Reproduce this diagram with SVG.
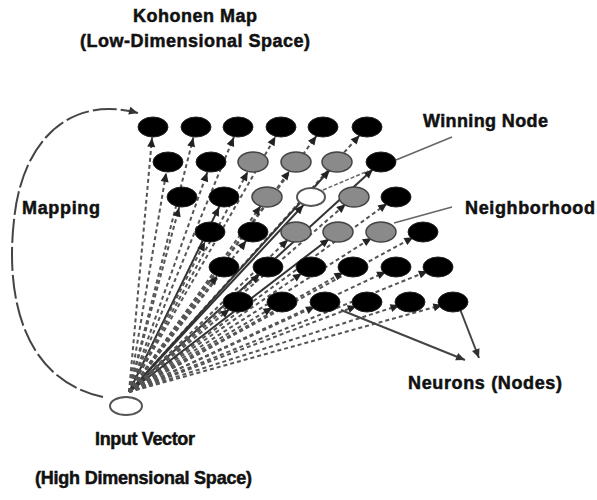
<svg xmlns="http://www.w3.org/2000/svg" width="597" height="500" viewBox="0 0 597 500">
  <style>
    text { font-family: "Liberation Sans", Arial, sans-serif; font-weight: bold; font-size: 18px; fill: #111; stroke: #111; stroke-width: 0.5; }
    .dash { stroke: #555; stroke-width: 2; stroke-dasharray: 4 3; fill: none; marker-end: url(#tip); }
    .solid { stroke: #333; stroke-width: 2; fill: none; marker-end: url(#tip); }
    .black { fill: #000; stroke: #222; stroke-width: 1; }
    .gray { fill: #8a8a8a; stroke: #444; stroke-width: 1.5; }
    .hollow { fill: #fff; stroke: #555; stroke-width: 2; }
    .lead { stroke: #666; stroke-width: 1.5; fill: none; }
    .pointer { stroke: #444; stroke-width: 2; fill: none; marker-end: url(#head); }
  </style>
  <defs>
    <!-- arrowhead set back from the line end so it sits at the node rim -->
    <marker id="tip" markerUnits="userSpaceOnUse" markerWidth="22" markerHeight="8" refX="20" refY="4" orient="auto" overflow="visible">
      <path d="M0,0 L9,4 L0,8 z" fill="#222"/>
    </marker>
    <marker id="head" markerUnits="userSpaceOnUse" markerWidth="10" markerHeight="8" refX="9" refY="4" orient="auto" overflow="visible">
      <path d="M0,0 L9,4 L0,8 z" fill="#333"/>
    </marker>
  </defs>

  <!-- connectors -->
  <g id="connectors">
    <!-- mapping arc -->
    <path d="M103,397 C25,380 5,300 14,220 C22,140 70,95 138,113" stroke="#444" stroke-width="2" fill="none" stroke-dasharray="24 4" marker-end="url(#head)"/>
    <g id="weights">
      <!-- row 0 -->
      <line class="dash" x1="129" y1="392" x2="153" y2="127"/>
      <line class="dash" x1="129" y1="392" x2="196" y2="127"/>
      <line class="dash" x1="129" y1="392" x2="238" y2="127"/>
      <line class="dash" x1="129" y1="392" x2="281" y2="127"/>
      <line class="dash" x1="129" y1="392" x2="323" y2="127"/>
      <line class="dash" x1="129" y1="392" x2="367" y2="127"/>
      <!-- row 1 -->
      <line class="dash" x1="129" y1="392" x2="168" y2="162"/>
      <line class="dash" x1="129" y1="392" x2="211" y2="162"/>
      <line class="dash" x1="129" y1="392" x2="253" y2="162"/>
      <line class="dash" x1="129" y1="392" x2="296" y2="162"/>
      <line class="solid" x1="129" y1="392" x2="337" y2="162"/>
      <line class="solid" x1="129" y1="392" x2="381" y2="162"/>
      <!-- row 2 -->
      <line class="dash" x1="129" y1="392" x2="182" y2="197"/>
      <line class="solid" x1="129" y1="392" x2="224" y2="197"/>
      <line class="dash" x1="129" y1="392" x2="267" y2="197"/>
      <line class="solid" x1="129" y1="392" x2="311" y2="197"/>
      <line class="dash" x1="129" y1="392" x2="354" y2="197"/>
      <line class="dash" x1="129" y1="392" x2="396" y2="197"/>
      <!-- row 3 -->
      <line class="dash" x1="129" y1="392" x2="210" y2="232"/>
      <line class="dash" x1="129" y1="392" x2="253" y2="232"/>
      <line class="dash" x1="129" y1="392" x2="296" y2="232"/>
      <line class="solid" x1="129" y1="392" x2="338" y2="232"/>
      <line class="dash" x1="129" y1="392" x2="381" y2="232"/>
      <line class="dash" x1="129" y1="392" x2="423" y2="232"/>
      <!-- row 4 -->
      <line class="dash" x1="129" y1="392" x2="224" y2="267"/>
      <line class="dash" x1="129" y1="392" x2="268" y2="267"/>
      <line class="dash" x1="129" y1="392" x2="311" y2="267"/>
      <line class="dash" x1="129" y1="392" x2="353" y2="267"/>
      <line class="dash" x1="129" y1="392" x2="396" y2="267"/>
      <line class="dash" x1="129" y1="392" x2="438" y2="267"/>
      <!-- row 5 -->
      <line class="dash" x1="129" y1="392" x2="238" y2="302"/>
      <line class="dash" x1="129" y1="392" x2="282" y2="302"/>
      <line class="dash" x1="129" y1="392" x2="325" y2="302"/>
      <line class="dash" x1="129" y1="392" x2="367" y2="302"/>
      <line class="dash" x1="129" y1="392" x2="410" y2="302"/>
      <line class="dash" x1="129" y1="392" x2="453" y2="302"/>
    </g>
    <!-- hollow node to winning node -->
    <line x1="323" y1="190" x2="368" y2="171" stroke="#666" stroke-width="1.5" stroke-dasharray="4 2"/>
    <!-- label leaders -->
    <line class="lead" x1="452" y1="137" x2="396" y2="160"/>
    <line class="lead" x1="452" y1="207" x2="394" y2="223"/>
    <line class="pointer" x1="341" y1="310" x2="465" y2="360"/>
    <line class="pointer" x1="460" y1="309" x2="479" y2="358"/>
  </g>

  <!-- map neurons -->
  <g id="r0">
    <ellipse class="black" cx="153" cy="127" rx="15" ry="10"/>
    <ellipse class="black" cx="196" cy="127" rx="15" ry="10"/>
    <ellipse class="black" cx="238" cy="127" rx="15" ry="10"/>
    <ellipse class="black" cx="281" cy="127" rx="15" ry="10"/>
    <ellipse class="black" cx="323" cy="127" rx="15" ry="10"/>
    <ellipse class="black" cx="367" cy="127" rx="15" ry="10"/>
  </g>
  <g id="r1">
    <ellipse class="black" cx="168" cy="162" rx="15" ry="10"/>
    <ellipse class="black" cx="211" cy="162" rx="15" ry="10"/>
    <ellipse class="gray" cx="253" cy="162" rx="15" ry="10"/>
    <ellipse class="gray" cx="296" cy="162" rx="15" ry="10"/>
    <ellipse class="gray" cx="337" cy="162" rx="15" ry="10"/>
    <ellipse id="winner" class="black" cx="381" cy="162" rx="15" ry="10"/>
  </g>
  <g id="r2">
    <ellipse class="black" cx="182" cy="197" rx="15" ry="10"/>
    <ellipse class="black" cx="224" cy="197" rx="15" ry="10"/>
    <ellipse class="gray" cx="267" cy="197" rx="15" ry="10"/>
    <ellipse class="hollow" cx="311" cy="197" rx="14" ry="9"/>
    <ellipse class="gray" cx="354" cy="197" rx="15" ry="10"/>
    <ellipse class="black" cx="396" cy="197" rx="15" ry="10"/>
  </g>
  <g id="r3">
    <ellipse class="black" cx="210" cy="232" rx="15" ry="10"/>
    <ellipse class="black" cx="253" cy="232" rx="15" ry="10"/>
    <ellipse class="gray" cx="296" cy="232" rx="15" ry="10"/>
    <ellipse class="gray" cx="338" cy="232" rx="15" ry="10"/>
    <ellipse class="gray" cx="381" cy="232" rx="15" ry="10"/>
    <ellipse class="black" cx="423" cy="232" rx="15" ry="10"/>
  </g>
  <g id="r4">
    <ellipse class="black" cx="224" cy="267" rx="15" ry="10"/>
    <ellipse class="black" cx="268" cy="267" rx="15" ry="10"/>
    <ellipse class="black" cx="311" cy="267" rx="15" ry="10"/>
    <ellipse class="black" cx="353" cy="267" rx="15" ry="10"/>
    <ellipse class="black" cx="396" cy="267" rx="15" ry="10"/>
    <ellipse class="black" cx="438" cy="267" rx="15" ry="10"/>
  </g>
  <g id="r5">
    <ellipse class="black" cx="238" cy="302" rx="15" ry="10"/>
    <ellipse class="black" cx="282" cy="302" rx="15" ry="10"/>
    <ellipse class="black" cx="325" cy="302" rx="15" ry="10"/>
    <ellipse class="black" cx="367" cy="302" rx="15" ry="10"/>
    <ellipse class="black" cx="410" cy="302" rx="15" ry="10"/>
    <ellipse class="black" cx="453" cy="302" rx="15" ry="10"/>
  </g>

  <!-- input vector -->
  <g id="input">
    <ellipse class="hollow" cx="126" cy="406" rx="16" ry="9"/>
  </g>

  <!-- labels -->
  <g id="labels">
    <text x="195" y="22" text-anchor="middle" textLength="124">Kohonen Map</text>
    <text x="195" y="47" text-anchor="middle" textLength="230">(Low-Dimensional Space)</text>
    <text x="22" y="214" textLength="78">Mapping</text>
    <text x="423" y="127" textLength="125">Winning Node</text>
    <text x="465" y="214" textLength="130">Neighborhood</text>
    <text x="408" y="389" textLength="154">Neurons (Nodes)</text>
    <text x="95" y="445" font-size="17" textLength="100">Input Vector</text>
    <text x="35" y="484" font-size="17" textLength="217">(High Dimensional Space)</text>
  </g>
</svg>
